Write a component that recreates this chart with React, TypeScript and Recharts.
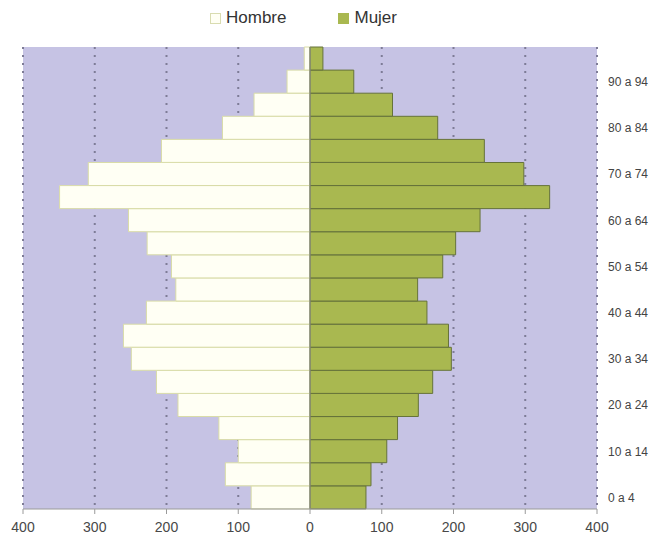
import { BarChart, Bar, XAxis, YAxis, CartesianGrid, Legend, ReferenceLine } from "recharts";

// age groups, youngest first
const ageGroups = [
    "0 a 4", "5 a 9", "10 a 14", "15 a 19", "20 a 24", "25 a 29", "30 a 34", "35 a 39",
    "40 a 44", "45 a 49", "50 a 54", "55 a 59", "60 a 64", "65 a 69", "70 a 74", "75 a 79",
    "80 a 84", "85 a 89", "90 a 94", "95 y más",
];
const hombre = [82, 118, 100, 127, 184, 214, 249, 260, 228, 187, 193, 227, 253, 349, 309, 207, 122, 78, 32, 8];
const mujer = [78, 85, 107, 122, 151, 171, 197, 193, 163, 150, 185, 203, 237, 334, 298, 243, 178, 115, 61, 18];
const xTicks = [-400, -300, -200, -100, 0, 100, 200, 300, 400];

const data = ageGroups.map((age, i) => ({ age, hombre: -hombre[i], mujer: mujer[i] }));

const font = "'Liberation Sans', Arial, sans-serif";

function PyramidLegend({ payload }: any) {
    return (
        <div style={{ display: "flex", justifyContent: "flex-start", gap: 52, fontSize: 17, color: "#333", paddingLeft: 210 }}>
            {(payload || []).map((p: any) => (
                <span key={p.value} style={{ display: "flex", alignItems: "center" }}>
                    <span
                        style={{
                            width: 11,
                            height: 11,
                            marginRight: 5,
                            background: p.color,
                            border: "1px solid " + (p.value === "Hombre" ? "#d9dcb0" : "#a9b850"),
                            boxSizing: "border-box",
                        }}
                    />
                    {p.value}
                </span>
            ))}
        </div>
    );
}

export default function App() {
    return (
        <div style={{ position: "absolute", left: 0, top: 0, fontFamily: font }}>
            <BarChart
                width={656}
                height={538}
                data={data}
                layout="vertical"
                stackOffset="sign"
                barCategoryGap={0}
                margin={{ top: 27, right: 0, bottom: 0, left: 23 }}
            >
                <CartesianGrid horizontal={false} fill="#c6c3e4" fillOpacity={1} stroke="#7e7c96" strokeWidth={2} strokeDasharray="2 6" />
                <XAxis
                    type="number"
                    domain={[-400, 400]}
                    ticks={xTicks}
                    tickFormatter={(v: number) => String(Math.abs(v))}
                    stroke="#9a9a9a"
                    tickSize={5}
                    tickMargin={8}
                    tick={{ fill: "#484848", fontSize: 14 }}
                    height={29}
                />
                <YAxis
                    type="category"
                    dataKey="age"
                    orientation="right"
                    reversed
                    interval={1}
                    axisLine={false}
                    tickLine={false}
                    tickMargin={5}
                    width={59}
                    tick={{ fill: "#444", fontSize: 12, textAnchor: "start" }}
                />
                <Legend verticalAlign="top" wrapperStyle={{ top: 8, left: 0, width: 656 }} content={<PyramidLegend />} />
                <Bar dataKey="hombre" name="Hombre" stackId="a" fill="#fffff4" stroke="#d9dca8" strokeWidth={1} isAnimationActive={false} />
                <Bar dataKey="mujer" name="Mujer" stackId="a" fill="#a9b850" stroke="#66733a" strokeWidth={1} isAnimationActive={false} />
                <ReferenceLine x={0} stroke="#8a8a8a" />
            </BarChart>
        </div>
    );
}
